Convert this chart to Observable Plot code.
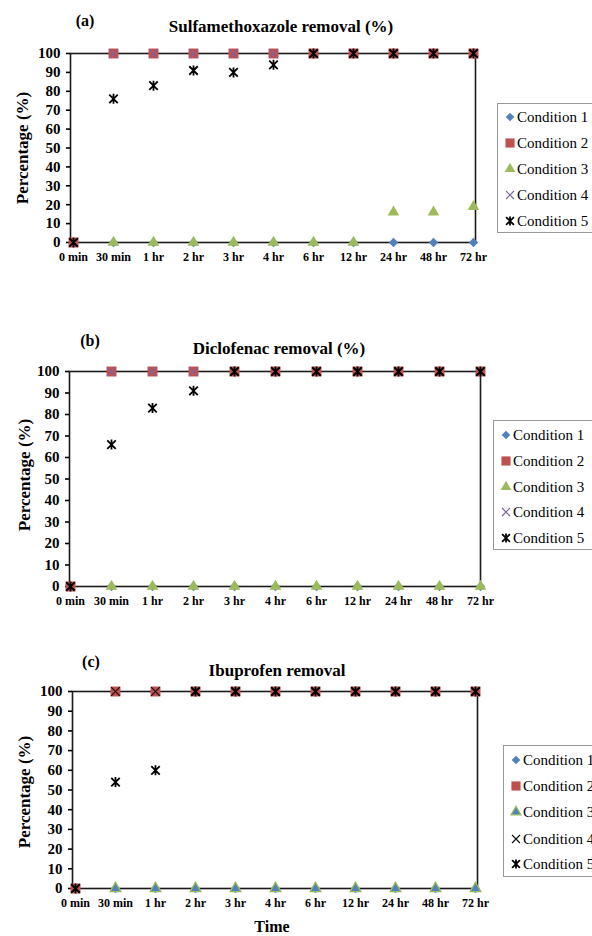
<!DOCTYPE html>
<html>
<head>
<meta charset="utf-8">
<script src="https://cdn.jsdelivr.net/npm/d3@7"></script>
<script src="https://cdn.jsdelivr.net/npm/@observablehq/plot@0.6"></script>
<style>
  html, body { margin: 0; padding: 0; background: white; }
  #wrap { position: relative; width: 592px; height: 936px; overflow: hidden; background: white; font-family: "Liberation Serif", "Times New Roman", serif; color: #000; }
  .abs { position: absolute; white-space: nowrap; }
  .ctr { transform: translate(-50%, -50%); }
  .title { font-size: 17px; font-weight: bold; }
  .tag { font-size: 16px; font-weight: bold; }
  .ylab { font-size: 17px; font-weight: bold; transform: translate(-50%, -50%) rotate(-90deg); }
  .legend { position: absolute; border: 1px solid #999; background: white; box-sizing: border-box; }
  .legend .row { position: absolute; left: 0; width: 200px; height: 20px; font-size: 15px; line-height: 20px; white-space: nowrap; }
  .legend svg { position: absolute; left: 6px; top: 4px; overflow: visible; }
  .legend span { position: absolute; left: 19px; top: 0; white-space: nowrap; }
</style>
</head>
<body>
<div id="wrap"></div>
<script>
// ---------- data ----------
const times = ["0 min", "30 min", "1 hr", "2 hr", "3 hr", "4 hr", "6 hr", "12 hr", "24 hr", "48 hr", "72 hr"];
const conditions = ["Condition 1", "Condition 2", "Condition 3", "Condition 4", "Condition 5"];
const yTicks = [0, 10, 20, 30, 40, 50, 60, 70, 80, 90, 100];

// (a) Sulfamethoxazole removal (%)
const smxC1 = [0, 0, 0, 0, 0, 0, 0, 0, 0, 0, 0];
const smxC2 = [0, 100, 100, 100, 100, 100, 100, 100, 100, 100, 100];
const smxC3 = [null, 0, 0, 0, 0, 0, 0, 0, 16, 16, 19];
const smxC4 = [0, 100, 100, 100, 100, 100, 100, 100, 100, 100, 100];
const smxC5 = [0, 76, 83, 91, 90, 94, 100, 100, 100, 100, 100];

// (b) Diclofenac removal (%)
const dcfC1 = [0, 0, 0, 0, 0, 0, 0, 0, 0, 0, 0];
const dcfC2 = [0, 100, 100, 100, 100, 100, 100, 100, 100, 100, 100];
const dcfC3 = [null, 0, 0, 0, 0, 0, 0, 0, 0, 0, 0];
const dcfC4 = [0, 100, 100, 100, 100, 100, 100, 100, 100, 100, 100];
const dcfC5 = [0, 66, 83, 91, 100, 100, 100, 100, 100, 100, 100];

// (c) Ibuprofen removal
const ibuC1 = [0, 0, 0, 0, 0, 0, 0, 0, 0, 0, 0];
const ibuC2 = [0, 100, 100, 100, 100, 100, 100, 100, 100, 100, 100];
const ibuC3 = [null, 0, 0, 0, 0, 0, 0, 0, 0, 0, 0];
const ibuC4 = [0, 100, 100, 100, 100, 100, 100, 100, 100, 100, 100];
const ibuC5 = [0, 54, 60, 100, 100, 100, 100, 100, 100, 100, 100];

// ---------- styling ----------
const BLUE = "#4F81BD", RED = "#C0504D", GREEN = "#9BBB59", PURPLE = "#8064A2";

const asteriskSym = {
  draw(ctx, size) {
    const r = Math.sqrt(size / Math.PI);
    const a = r * 0.85;
    ctx.moveTo(-a, -a); ctx.lineTo(a, a);
    ctx.moveTo(-a, a); ctx.lineTo(a, -a);
    ctx.moveTo(0, -r); ctx.lineTo(0, r);
  }
};

function markStyles(variant) {
  return [
    {symbol: "diamond2", fill: BLUE, stroke: "none", r: 4.2},
    {symbol: "square", fill: RED, stroke: "none", r: 5.6},
    variant === "c"
      ? {symbol: "triangle", fill: BLUE, stroke: GREEN, strokeWidth: 1.3, r: 4.0}
      : {symbol: "triangle", fill: GREEN, stroke: "none", r: 4.3},
    {symbol: "times", fill: "none", stroke: variant === "c" ? "#111" : PURPLE, strokeWidth: 1.2, r: 4.0},
    {symbol: asteriskSym, fill: "none", stroke: "#000", strokeWidth: 1.8, r: 5.0}
  ];
}

function rowsFor(series) {
  const rows = [];
  series.forEach((vals, i) => vals.forEach((v, j) => {
    if (v != null) rows.push({time: times[j], value: v, cond: conditions[i]});
  }));
  return rows;
}

const wrap = document.getElementById("wrap");

function addPanel({series, top, mt, zeroY, ml, right, variant}) {
  const rows = rowsFor(series);
  const styles = markStyles(variant);
  const mb = 40;
  const height = (zeroY - top) + mb;
  const chart = Plot.plot({
    width: 592,
    height,
    marginTop: mt,
    marginBottom: mb,
    marginLeft: ml,
    marginRight: 592 - right,
    style: {fontFamily: "'Liberation Serif', 'Times New Roman', serif", background: "transparent", overflow: "visible", color: "#000"},
    x: {type: "point", domain: times, padding: 0, label: null},
    y: {domain: [0, 100], label: null},
    marks: [
      Plot.frame({stroke: "#1a1a1a", strokeWidth: 1.6}),
      Plot.axisY({ticks: yTicks, tickSize: 4, tickPadding: 6, fontSize: 15, fontWeight: "bold", strokeWidth: 1.6, label: null}),
      Plot.axisX({tickSize: 0, tickPadding: 10, fontSize: 12, fontWeight: "bold", label: null}),
      ...conditions.map((c, i) => Plot.dot(rows, {
        filter: d => d.cond === c,
        x: "time", y: "value",
        ...styles[i]
      }))
    ]
  });
  chart.style.position = "absolute";
  chart.style.left = "0px";
  chart.style.top = top + "px";
  wrap.appendChild(chart);
}

function addText(cls, text, x, y) {
  const d = document.createElement("div");
  d.className = "abs " + cls;
  if (cls !== "ylab") d.classList.add("ctr");
  d.style.left = x + "px";
  d.style.top = y + "px";
  d.textContent = text;
  wrap.appendChild(d);
  return d;
}

function addLegend({left, top, height, rowYs, variant}) {
  const box = document.createElement("div");
  box.className = "legend";
  box.style.left = left + "px";
  box.style.top = top + "px";
  box.style.width = (600 - left) + "px";
  box.style.height = height + "px";
  const styles = markStyles(variant);
  conditions.forEach((c, i) => {
    const row = document.createElement("div");
    row.className = "row";
    row.style.top = (rowYs[i] - top - 10) + "px";
    const s = styles[i];
    const size = Math.PI * s.r * s.r * 0.85;
    const symObj = typeof s.symbol === "string"
      ? {diamond2: d3.symbolDiamond2, square: d3.symbolSquare, triangle: d3.symbolTriangle, times: d3.symbolTimes}[s.symbol]
      : s.symbol;
    const path = d3.symbol(symObj, size)();
    const svg = d3.create("svg").attr("width", 12).attr("height", 12)
      .attr("viewBox", "-6 -6 12 12");
    svg.append("path").attr("d", path)
      .attr("fill", s.fill).attr("stroke", s.stroke)
      .attr("stroke-width", s.strokeWidth || 0);
    row.appendChild(svg.node());
    const span = document.createElement("span");
    span.textContent = c;
    row.appendChild(span);
    box.appendChild(row);
  });
  wrap.appendChild(box);
}

// ---------- panel (a) ----------
addPanel({series: [smxC1, smxC2, smxC3, smxC4, smxC5], top: 0, mt: 53, zeroY: 242, ml: 70, right: 475, variant: "a"});
addText("tag", "(a)", 85, 21);
addText("title", "Sulfamethoxazole removal (%)", 281, 27);
addText("ylab", "Percentage (%)", 23, 148);
addLegend({left: 497, top: 103, height: 130, rowYs: [116, 142, 168, 194, 220], variant: "a"});

// ---------- panel (b) ----------
addPanel({series: [dcfC1, dcfC2, dcfC3, dcfC4, dcfC5], top: 300, mt: 71, zeroY: 586, ml: 69, right: 480, variant: "b"});
addText("tag", "(b)", 90, 341);
addText("title", "Diclofenac removal (%)", 279, 349);
addText("ylab", "Percentage (%)", 25, 475);
addLegend({left: 493, top: 420, height: 130, rowYs: [434, 460, 486, 511, 537], variant: "b"});

// ---------- panel (c) ----------
addPanel({series: [ibuC1, ibuC2, ibuC3, ibuC4, ibuC5], top: 630, mt: 61, zeroY: 888, ml: 72, right: 477, variant: "c"});
addText("tag", "(c)", 91, 662);
addText("title", "Ibuprofen removal", 277, 671);
addText("ylab", "Percentage (%)", 25, 792);
addText("tag", "Time", 272, 927);
addLegend({left: 503, top: 745, height: 132, rowYs: [759, 785, 811, 838, 863], variant: "c"});
</script>
</body>
</html>
